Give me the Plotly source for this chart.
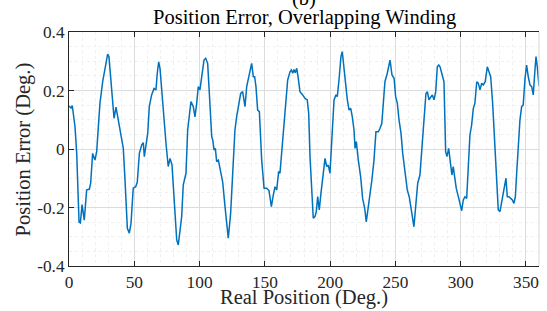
import plotly.graph_objects as go

# Real position (deg) and position error (deg)
pos = [0, 1.5, 2.5, 4.6, 5.9, 7.7, 8.7, 10, 11.7, 13.5, 15.6, 16.6, 18.1, 19.9, 21.2, 23.7, 25.8, 27, 28.1,
       29.6, 30.6, 31.9, 33.2, 34.5, 36, 37.8, 40.3, 41.6, 42.9, 44.7, 46.2, 47.5, 49.2, 51.1, 52.3, 53.9,
       55.7, 56.9, 57.7, 59, 60.3, 61.5, 63.3, 65.1, 66.6, 67.6, 68.7, 69.7, 71, 72.2, 74.3, 76, 77.4, 78.9,
       79.9, 81.2, 82.5, 83.7, 85, 86.3, 87.5, 88.8, 89.6, 90.9, 92.1, 93.4, 95.2, 96.5, 97.8, 99, 100.3,
       101.6, 103.4, 104.7, 106.2, 107.5, 109.3, 110.1, 111.1, 112.1, 113.1, 114.4, 115.7, 117.7, 119.5,
       120.5, 122, 123.8, 125.4, 127.1, 128.4, 130.4, 131.5, 133, 134, 134.8, 136.1, 137.3, 138.6, 139.9,
       141.2, 142.2, 143.2, 144.5, 145.8, 147.6, 149.4, 151.4, 153.2, 155, 156.5, 157.8, 159.1, 160.6,
       161.6, 162.9, 164.7, 166, 167.5, 169.3, 170.3, 171.4, 172.3, 173.3, 174.4, 175.6, 176.9, 179,
       180.8, 182.5, 183.6, 184.6, 186.1, 187.1, 188.4, 189.4, 190.5, 191.7, 193, 194.8, 196.1, 197.4,
       198.6, 199.9, 201.2, 203, 204.5, 205.5, 206.8, 208.3, 209.3, 210.6, 211.9, 213.2, 214.5, 215.8,
       217, 218.3, 219.1, 220.1, 221.6, 223.4, 224.9, 226.5, 227.7, 229, 230.5, 232, 233.6, 235.1, 236.9,
       238.2, 239.6, 240.7, 242, 243.8, 245.9, 247.4, 249, 250.2, 251.5, 252.8, 254.3, 255.6, 257.4,
       259.1, 260.6, 261.9, 263, 264.2, 265.5, 267.1, 268.8, 270.4, 271.9, 273.4, 274.5, 275.7, 277,
       278.3, 279.6, 280.9, 282.1, 283.2, 284.2, 285.7, 287.2, 288.5, 289.5, 290.8, 292, 293.3, 294.3,
       295.4, 296.6, 298.2, 299.5, 300.8, 302, 303.3, 304.6, 305.8, 307.1, 308.4, 309.7, 310.9, 312.3,
       313.5, 314.8, 316.1, 317.3, 318.8, 320.4, 321.7, 323, 324.5, 326.3, 327.6, 328.8, 330.1, 331.4,
       332.6, 333.7, 334.7, 335.7, 337, 338.3, 339.6, 340.8, 341.9, 342.9, 344.2, 345.4, 346.7, 347.9,
       349.3, 350.5, 351.8, 353.1, 354.4, 355.6, 356.9, 357.7, 358.7, 360]
err = [0.147, 0.14, 0.148, 0.076, -0.014, -0.25, -0.253, -0.19, -0.243, -0.14, -0.137, -0.117, -0.015,
       -0.038, -0.009, 0.156, 0.23, 0.259, 0.281, 0.324, 0.316, 0.236, 0.156, 0.105, 0.143, 0.099, 0.037,
       0.002, -0.106, -0.271, -0.288, -0.254, -0.134, -0.129, -0.114, -0.015, 0.014, 0.022, -0.026, 0.025,
       0.054, 0.145, 0.185, 0.207, 0.202, 0.259, 0.298, 0.276, 0.196, 0.122, 0.019, -0.06, -0.032, -0.055,
       -0.129, -0.243, -0.311, -0.328, -0.266, -0.231, -0.123, -0.095, -0.083, 0.065, 0.11, 0.162, 0.145,
       0.11, 0.156, 0.213, 0.202, 0.247, 0.304, 0.31, 0.293, 0.19, 0.042, 0.031, -0.003, 0.002, -0.043,
       -0.038, -0.072, -0.112, -0.197, -0.25, -0.305, -0.22, -0.072, 0.065, 0.11, 0.156, 0.19, 0.196,
       0.168, 0.145, 0.213, 0.242, 0.27, 0.293, 0.247, 0.247, 0.213, 0.133, 0.128, -0.038, -0.134, -0.134,
       -0.142, -0.197, -0.157, -0.129, -0.14, -0.077, -0.083, -0.015, 0.099, 0.173, 0.236, 0.264, 0.27,
       0.259, 0.272, 0.261, 0.276, 0.242, 0.196, 0.185, 0.173, 0.168, 0.122, -0.026, -0.163, -0.237,
       -0.231, -0.214, -0.163, -0.208, -0.151, -0.072, -0.032, -0.06, -0.055, -0.083, 0.042, 0.168, 0.185,
       0.179, 0.236, 0.316, 0.333, 0.281, 0.213, 0.168, 0.133, 0.139, 0.11, 0.065, 0.002, 0.025, -0.038,
       -0.095, -0.169, -0.203, -0.249, -0.208, -0.151, -0.106, -0.038, 0.059, 0.059, 0.07, 0.088, 0.156,
       0.23, 0.259, 0.304, 0.253, 0.242, 0.179, 0.156, 0.099, 0.054, -0.015, -0.083, -0.14, -0.163,
       -0.208, -0.231, -0.266, -0.197, -0.117, -0.089, 0.008, 0.099, 0.19, 0.196, 0.168, 0.177, 0.185,
       0.168, 0.196, 0.281, 0.287, 0.281, 0.259, 0.23, -0.009, -0.026, 0.002, -0.049, -0.089, -0.06,
       -0.095, -0.134, -0.163, -0.191, -0.211, -0.174, -0.163, -0.169, -0.06, 0.048, 0.082, 0.139, 0.156,
       0.23, 0.225, 0.202, 0.225, 0.219, 0.23, 0.281, 0.264, 0.247, 0.156, -0.003, -0.117, -0.208, -0.214,
       -0.18, -0.151, -0.129, -0.1, -0.163, -0.163, -0.169, -0.174, -0.186, -0.163, -0.083, 0.008, 0.099,
       0.145, 0.15, 0.242, 0.287, 0.247, 0.219, 0.213, 0.185, 0.27, 0.316, 0.281, 0.215]

x_ticks = [0, 50, 100, 150, 200, 250, 300, 350]
x_tick_text = ["0", "50", "100", "150", "200", "250", "300", "350"]
y_ticks = [-0.4, -0.2, 0, 0.2, 0.4]
y_tick_text = ["-0.4", "-0.2", "0", "0.2", "0.4"]

title_text = "Position Error, Overlapping Winding"
panel_text = "(b)"
x_title = "Real Position (Deg.)"
y_title = "Position Error (Deg.)"

FONT = "Liberation Serif"
GRID = "#dcdcdc"
MINOR = "#f0f0f0"
INK = "#262626"
TICK_SIZE = 17.3
LABEL_SIZE = 20.5

fig = go.Figure()
fig.add_trace(go.Scatter(x=pos, y=err, mode="lines",
                         line=dict(color="#0072BD", width=1.5), showlegend=False))

fig.update_layout(
    width=547, height=311,
    margin=dict(l=69, r=8, t=32, b=45, autoexpand=False),
    paper_bgcolor="white", plot_bgcolor="white",
    font=dict(family=FONT, color=INK, size=TICK_SIZE),
)
fig.update_xaxes(
    range=[0, 360], tickvals=x_ticks, ticktext=x_tick_text,
    ticks="inside", ticklen=5, tickcolor=INK, tickwidth=1,
    showline=True, linecolor=INK, linewidth=1, mirror="ticks",
    showgrid=True, gridcolor=GRID, gridwidth=1, zeroline=False,
    minor=dict(dtick=10, tick0=0, showgrid=True, gridcolor=MINOR, griddash="dot", ticks=""),
    tickfont=dict(family=FONT, size=TICK_SIZE, color=INK),
    automargin=False,
)
fig.update_yaxes(
    range=[-0.4, 0.4], tickvals=y_ticks, ticktext=y_tick_text,
    ticks="inside", ticklen=5, tickcolor=INK, tickwidth=1,
    showline=True, linecolor=INK, linewidth=1, mirror=False,
    showgrid=True, gridcolor=GRID, gridwidth=1, zeroline=False,
    minor=dict(dtick=0.05, tick0=0, showgrid=True, gridcolor=MINOR, griddash="dot", ticks=""),
    tickfont=dict(family=FONT, size=TICK_SIZE, color=INK),
    automargin=False,
)
# light right border as in the reference
fig.add_shape(type="line", xref="paper", yref="paper", x0=1, x1=1, y0=0, y1=1,
              line=dict(color="#d8d8d8", width=1))

fig.add_annotation(text=title_text, xref="paper", yref="paper", x=0.5, y=1.06,
                   yanchor="middle", showarrow=False,
                   font=dict(family=FONT, size=LABEL_SIZE, color="black"))
fig.add_annotation(text=panel_text, xref="paper", yref="paper", x=0.5, y=1.143,
                   yanchor="middle", showarrow=False,
                   font=dict(family=FONT, size=LABEL_SIZE, color="black"))
fig.add_annotation(text=x_title, xref="paper", yref="paper", x=0.5, y=-0.135,
                   yanchor="middle", showarrow=False,
                   font=dict(family=FONT, size=LABEL_SIZE, color=INK))
fig.add_annotation(text=y_title, xref="paper", yref="paper", x=-0.097, y=0.5,
                   xanchor="center", yanchor="middle", textangle=-90, showarrow=False,
                   font=dict(family=FONT, size=LABEL_SIZE, color=INK))

fig.write_html("out.html", config={"displayModeBar": False},
               post_script="document.body.style.margin='0';")
